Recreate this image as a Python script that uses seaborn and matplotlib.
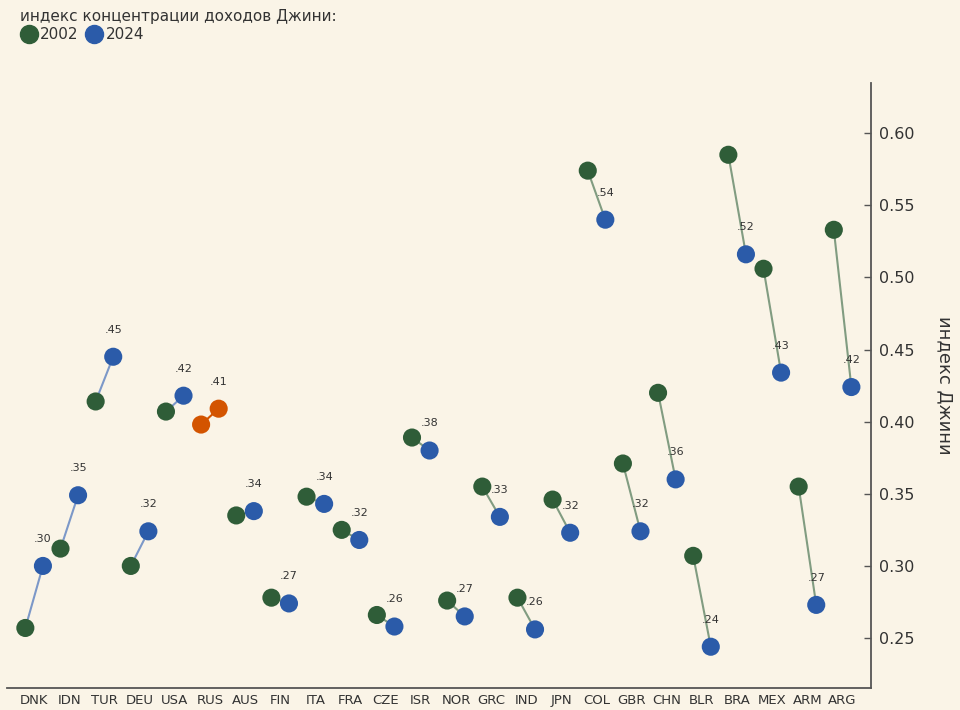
import numpy as np
import pandas as pd
import matplotlib
matplotlib.use("Agg")
import matplotlib.pyplot as plt
from matplotlib.lines import Line2D
import seaborn as sns

countries = ["DNK", "IDN", "TUR", "DEU", "USA", "RUS", "AUS", "FIN", "ITA", "FRA", "CZE", "ISR",
             "NOR", "GRC", "IND", "JPN", "COL", "GBR", "CHN", "BLR", "BRA", "MEX", "ARM", "ARG"]
gini_2002 = [0.257, 0.312, 0.414, 0.300, 0.407, 0.398, 0.335, 0.278, 0.348, 0.325, 0.266, 0.389,
             0.276, 0.355, 0.278, 0.346, 0.574, 0.371, 0.420, 0.307, 0.585, 0.506, 0.355, 0.533]
gini_2024 = [0.300, 0.349, 0.445, 0.324, 0.418, 0.409, 0.338, 0.274, 0.343, 0.318, 0.258, 0.380,
             0.265, 0.334, 0.256, 0.323, 0.540, 0.324, 0.360, 0.244, 0.516, 0.434, 0.273, 0.424]
highlight = "RUS"

bg = "#faf4e7"
green = "#2f5d38"
blue = "#2b5ba9"
orange = "#d35400"
line_up = "#7c98c8"
line_down = "#819c81"

rows = []
for i, c in enumerate(countries):
    rows.append({"country": c, "pos": i - 0.25, "gini": gini_2002[i],
                 "group": "hl" if c == highlight else "2002"})
    rows.append({"country": c, "pos": i + 0.25, "gini": gini_2024[i],
                 "group": "hl" if c == highlight else "2024"})
df = pd.DataFrame(rows)

sns.set_style("white")
plt.rcParams["font.family"] = ["DejaVu Sans"]

fig, ax = plt.subplots(figsize=(9.6, 7.1), dpi=100)
fig.patch.set_facecolor(bg)
ax.set_facecolor(bg)
fig.subplots_adjust(left=0.007, right=0.907, top=0.883, bottom=0.031)

# connecting lines
for i, c in enumerate(countries):
    a, b = gini_2002[i], gini_2024[i]
    if c == highlight:
        col = orange
    else:
        col = line_up if b > a else line_down
    ax.plot([i - 0.25, i + 0.25], [a, b], color=col, lw=1.5, zorder=1)

sns.scatterplot(data=df, x="pos", y="gini", hue="group",
                palette={"2002": green, "2024": blue, "hl": orange},
                s=170, linewidth=0, legend=False, zorder=3, ax=ax)

for i, v in enumerate(gini_2024):
    ax.annotate(f"{v:.2f}"[1:], (i + 0.25, v), xytext=(0, 19.5), textcoords="offset points",
                ha="center", va="center", fontsize=8, color="#333333")

ax.set_xlim(-0.78, 23.8)
ax.set_ylim(0.2154, 0.6347)
ax.set_xticks(range(len(countries)))
ax.set_xticklabels(countries, fontsize=9.5, color="#333333")
ax.set_yticks([0.25, 0.30, 0.35, 0.40, 0.45, 0.50, 0.55, 0.60])
ax.set_yticklabels([f"{t:.2f}" for t in ax.get_yticks()], fontsize=11.5, color="#333333")
ax.yaxis.tick_right()
ax.yaxis.set_label_position("right")
ax.set_xlabel("")
ax.set_ylabel("индекс Джини", fontsize=13, rotation=270, labelpad=28, color="#333333")
ax.tick_params(axis="x", direction="in", length=5, width=1, color="#555555", pad=4)
ax.tick_params(axis="y", direction="in", length=5, width=1, color="#555555", pad=6)

for s in ["top", "left"]:
    ax.spines[s].set_visible(False)
for s in ["right", "bottom"]:
    ax.spines[s].set_color("#555555")
    ax.spines[s].set_linewidth(1.3)

handles = [Line2D([], [], marker="o", ls="", color=green, markersize=13),
           Line2D([], [], marker="o", ls="", color=blue, markersize=13)]
leg = fig.legend(handles, ["2002", "2024"], title="индекс концентрации доходов Джини:",
                 loc="upper left", bbox_to_anchor=(0.014, 0.996), ncol=2, frameon=False,
                 alignment="left", handletextpad=0.15, columnspacing=0.4, handlelength=1.2,
                 labelspacing=0.2, borderpad=0.2,
                 fontsize=11, title_fontsize=11, borderaxespad=0.2)
for t in leg.get_texts():
    t.set_color("#333333")
leg.get_title().set_color("#333333")

fig.savefig("out.png", dpi=100, facecolor=bg)
